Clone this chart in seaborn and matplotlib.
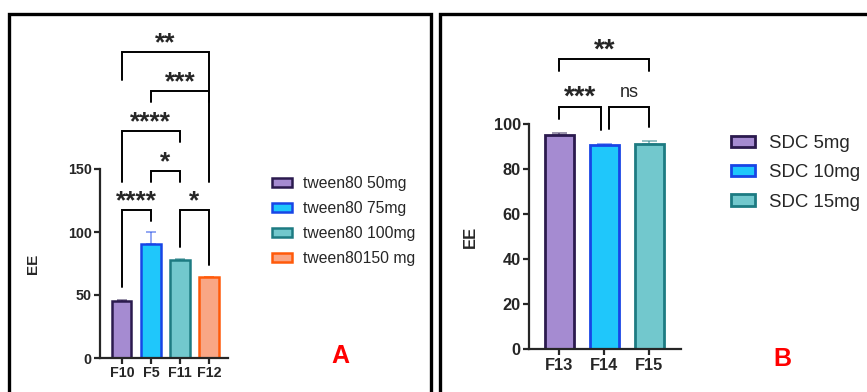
import matplotlib
matplotlib.use("Agg")
import matplotlib.pyplot as plt
from matplotlib.patches import Patch, Rectangle
import seaborn as sns
import pandas as pd

# panel A: tween80 series
a_names = ["F10", "F5", "F11", "F12"]
a_labels = ["tween80 50mg", "tween80 75mg", "tween80 100mg", "tween80150 mg"]
a_ee = [45.2, 90.5, 77.8, 64.0]
a_sd = [0.9, 9.2, 0.8, 0.6]

# panel B: SDC series
b_names = ["F13", "F14", "F15"]
b_labels = ["SDC 5mg", "SDC 10mg", "SDC 15mg"]
b_ee = [95.2, 90.7, 91.4]
b_sd = [0.8, 0.4, 1.0]

# significance brackets: (left bar, right bar, bracket level, left leg end, right leg end, label)
a_brackets = [
    (0, 1, 117.5, 56.3, 108.7, "****"),
    (2, 3, 117.5, 88.0, 73.8, "*"),
    (1, 2, 148.4, 139.7, 139.7, "*"),
    (0, 2, 180.0, 139.7, 171.4, "****"),
    (1, 3, 211.9, 203.0, 139.7, "***"),
    (0, 3, 242.9, 220.6, 203.0, "**"),
]
b_brackets = [
    (0, 1, 107.8, 102.4, 97.5, "***"),
    (1, 2, 107.8, 97.8, 98.9, "ns"),
    (0, 2, 128.9, 123.7, 123.7, "**"),
]

fills = ["#a58bd1", "#1fc7fb", "#72c8cd", "#f9a685"]
edges = ["#2b1a4e", "#1845e6", "#1d7b82", "#ff5a0a"]

sns.set_style("ticks")
plt.rcParams["font.family"] = ["Liberation Sans", "DejaVu Sans"]

W, H = 867, 392
fig = plt.figure(figsize=(W / 100, H / 100), dpi=100)


def px_axes(x0, x1, y_top, y_bot):
    return fig.add_axes([x0 / W, 1 - y_bot / H, (x1 - x0) / W, (y_bot - y_top) / H])


def draw_panel(ax, names, ee, sd, brackets, width, ymax, yticks, tick_fs,
               star_fs, star_off, lw, capsize):
    n = len(names)
    df = pd.DataFrame({"name": names, "EE": ee})
    sns.barplot(data=df, x="name", y="EE", hue="name", palette=fills[:n],
                errorbar=None, width=width, legend=False, ax=ax,
                saturation=1)
    for i, p in enumerate(ax.patches):
        p.set_edgecolor(edges[i])
        p.set_linewidth(lw)
    for i in range(n):
        ax.errorbar(i, ee[i], yerr=[[0], [sd[i]]], color=edges[i], alpha=0.55,
                    capsize=capsize, elinewidth=1.2, capthick=1.2, zorder=1)
    ax.set_ylim(0, ymax)
    ax.set_yticks(yticks)
    ax.set_xlabel("")
    sns.despine(ax=ax)
    for s in ["left", "bottom"]:
        ax.spines[s].set_linewidth(1.6)
    ax.tick_params(width=1.6, length=4, labelsize=tick_fs, pad=2)
    for t in ax.get_xticklabels() + ax.get_yticklabels():
        t.set_fontweight("bold")
    # brackets
    ends = {}
    for b in brackets:
        ends.setdefault((b[2], b[0]), []).append("L")
        ends.setdefault((b[2], b[1]), []).append("R")
    for i0, i1, lev, l0, l1, lab in brackets:
        x0, x1 = float(i0), float(i1)
        if len(ends[(lev, i0)]) > 1:
            x0 += 0.1
        if len(ends[(lev, i1)]) > 1:
            x1 -= 0.08
        ax.plot([x0, x0, x1, x1], [l0, lev, lev, l1], color="black", lw=1.4,
                clip_on=False, solid_joinstyle="miter")
        if lab == "ns":
            ax.annotate(lab, xy=((x0 + x1) / 2, lev), xytext=(0, 7),
                        textcoords="offset points", ha="center", va="baseline",
                        fontsize=13, annotation_clip=False)
        else:
            ax.annotate(lab, xy=((x0 + x1) / 2, lev), xytext=(0, star_off),
                        textcoords="offset points", ha="center", va="baseline",
                        fontsize=star_fs, fontweight="bold", annotation_clip=False)


# panel A
axA = px_axes(100, 228, 169, 358)
draw_panel(axA, a_names, a_ee, a_sd, a_brackets, 0.66, 150, [0, 50, 100, 150],
           10.3, 19, 1, 1.8, 3.6)
axA.set_xlim(-0.75, 3.65)
axA.set_ylabel("EE", fontsize=11, fontweight="bold")
axA.yaxis.set_label_coords(-0.47, 0.5)

# panel B
axB = px_axes(529, 680.7, 124.3, 349.3)
draw_panel(axB, b_names, b_ee, b_sd, b_brackets, 0.64, 100, [0, 20, 40, 60, 80, 100],
           11.8, 20, 1.5, 2.0, 5.4)
axB.set_xlim(-0.67, 2.70)
axB.set_ylabel("EE", fontsize=12, fontweight="bold")
axB.yaxis.set_label_coords(-0.34, 0.5)

# legends
hA = [Patch(facecolor=fills[i], edgecolor=edges[i], linewidth=1.8) for i in range(4)]
fig.legend(hA, a_labels, loc="upper left", bbox_to_anchor=(272 / W, 1 - 176 / H),
           frameon=False, fontsize=11.3, handlelength=1.25, handleheight=0.45,
           handletextpad=0.75, labelspacing=0.64, borderaxespad=0, borderpad=0)
hB = [Patch(facecolor=fills[i], edgecolor=edges[i], linewidth=2.0) for i in range(3)]
fig.legend(hB, b_labels, loc="upper left", bbox_to_anchor=(731 / W, 1 - 135 / H),
           frameon=False, fontsize=13.4, handlelength=1.3, handleheight=0.57,
           handletextpad=0.75, labelspacing=0.66, borderaxespad=0, borderpad=0)

# panel letters
fig.text(340 / W, 1 - 356 / H, "A", color="#ff0000", fontsize=18, fontweight="bold",
         ha="center", va="center")
fig.text(782 / W, 1 - 359 / H, "B", color="#ff0000", fontsize=18, fontweight="bold",
         ha="center", va="center")

# panel frames
for x0, x1 in [(9, 431), (439.5, 900)]:
    fig.add_artist(Rectangle((x0 / W, -0.1), (x1 - x0) / W, 1.1 - 14 / H,
                             transform=fig.transFigure, fill=False,
                             edgecolor="black", linewidth=2.4))

fig.savefig("out.png", dpi=100)
